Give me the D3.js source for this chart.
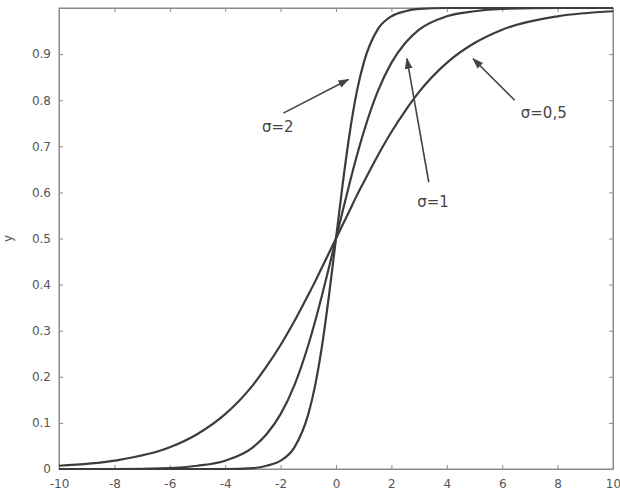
<!DOCTYPE html>
<html>
<head>
<meta charset="utf-8">
<script src="https://cdn.jsdelivr.net/npm/d3@7"></script>
<style>
  body { margin: 0; background: #fff; }
  text { font-family: "DejaVu Sans", sans-serif; }
</style>
</head>
<body>
<div class="chartBox"></div>
<script>
var margin = { top: 8, right: 7, bottom: 29, left: 59 };

var w = 620 - margin.left - margin.right,
    h = 498 - margin.top - margin.bottom;

// values
var xs = [-10, -8, -6, -5, -4, -3, -2.5, -2, -1.5, -1, -0.75, -0.5, -0.25, 0,
          0.25, 0.5, 0.75, 1, 1.5, 2, 2.5, 3, 4, 5, 6, 8, 10];

var sigmaHalf = [0.007, 0.018, 0.047, 0.076, 0.119, 0.182, 0.223, 0.269, 0.321, 0.378, 0.407, 0.438, 0.469, 0.5,
                 0.531, 0.562, 0.593, 0.622, 0.679, 0.731, 0.777, 0.818, 0.881, 0.924, 0.953, 0.982, 0.993];
var sigmaOne = [0.000, 0.000, 0.002, 0.007, 0.018, 0.047, 0.076, 0.119, 0.182, 0.269, 0.321, 0.378, 0.438, 0.5,
                0.562, 0.622, 0.679, 0.731, 0.818, 0.881, 0.924, 0.953, 0.982, 0.993, 0.998, 1.0, 1.0];
var sigmaTwo = [0.000, 0.000, 0.000, 0.000, 0.000, 0.002, 0.007, 0.018, 0.047, 0.119, 0.182, 0.269, 0.378, 0.5,
                0.622, 0.731, 0.818, 0.881, 0.953, 0.982, 0.993, 0.998, 1.0, 1.0, 1.0, 1.0, 1.0];

var xTicks = [-10, -8, -6, -4, -2, 0, 2, 4, 6, 8, 10];
var yTicks = [0, 0.1, 0.2, 0.3, 0.4, 0.5, 0.6, 0.7, 0.8, 0.9];

// label text, arrow tail and arrow head in data units
var labels = [
  { text: 'σ=2',   tx: -2.1, ty: 0.731, x1: -1.9, y1: 0.772, x2: 0.45, y2: 0.845 },
  { text: 'σ=1',   tx: 3.5,  ty: 0.568, x1: 3.35, y1: 0.622, x2: 2.56, y2: 0.89 },
  { text: 'σ=0,5', tx: 7.5,  ty: 0.761, x1: 6.45, y1: 0.80, x2: 4.95, y2: 0.89 }
];

var x = d3.scaleLinear().domain([-10, 10]).range([0, w]);
var y = d3.scaleLinear().domain([0, 1]).range([h, 0]);

var svg = d3.select('div.chartBox')
  .append('svg')
  .attr('width', 620)
  .attr('height', 498);

svg.append('defs').append('marker')
  .attr('id', 'head')
  .attr('viewBox', '0 0 10 10')
  .attr('refX', 9).attr('refY', 5)
  .attr('markerWidth', 7).attr('markerHeight', 7)
  .attr('orient', 'auto')
  .append('path')
  .attr('d', 'M0,1.5 L10,5 L0,8.5 Z')
  .attr('fill', '#444');

var g = svg.append('g')
  .attr('transform', 'translate(' + margin.left + ',' + margin.top + ')');

// frame
g.append('rect')
  .attr('width', w).attr('height', h)
  .attr('fill', 'none')
  .attr('stroke', '#8a8a8a')
  .attr('stroke-width', 1);

var axisColor = '#8a8a8a';

var xAxisB = g.append('g')
  .attr('transform', 'translate(0,' + h + ')')
  .call(d3.axisBottom(x).tickValues(xTicks).tickSizeInner(-4).tickSizeOuter(0).tickPadding(10)
    .tickFormat(function(d) { return String(d); }));
var xAxisT = g.append('g')
  .call(d3.axisTop(x).tickValues(xTicks).tickSizeInner(-4).tickSizeOuter(0).tickFormat(''));
var yAxisL = g.append('g')
  .call(d3.axisLeft(y).tickValues(yTicks).tickSizeInner(-4).tickSizeOuter(0).tickPadding(8)
    .tickFormat(function(d) { return d === 0 ? '0' : d3.format('.1f')(d); }));
var yAxisR = g.append('g')
  .attr('transform', 'translate(' + w + ',0)')
  .call(d3.axisRight(y).tickValues(yTicks).tickSizeInner(-4).tickSizeOuter(0).tickFormat(''));

[xAxisB, xAxisT, yAxisL, yAxisR].forEach(function(a) {
  a.select('.domain').attr('stroke', axisColor);
  a.selectAll('.tick line').attr('stroke', axisColor);
  a.selectAll('.tick text').attr('fill', '#555').style('font-size', '12px');
});

g.append('text')
  .attr('transform', 'translate(-47,' + y(0.5) + ') rotate(-90)')
  .attr('text-anchor', 'middle')
  .attr('fill', '#555')
  .style('font-size', '12px')
  .text('y');

var line = d3.line()
  .x(function(d) { return x(d[0]); })
  .y(function(d) { return y(d[1]); })
  .curve(d3.curveMonotoneX);

[sigmaHalf, sigmaOne, sigmaTwo].forEach(function(vals) {
  g.append('path')
    .datum(xs.map(function(v, i) { return [v, vals[i]]; }))
    .attr('d', line)
    .attr('fill', 'none')
    .attr('stroke', '#3c3c3c')
    .attr('stroke-width', 2.2);
});

g.selectAll('line.arrow')
  .data(labels)
  .enter()
  .append('line')
  .attr('class', 'arrow')
  .attr('x1', function(d) { return x(d.x1); })
  .attr('y1', function(d) { return y(d.y1); })
  .attr('x2', function(d) { return x(d.x2); })
  .attr('y2', function(d) { return y(d.y2); })
  .attr('stroke', '#444')
  .attr('stroke-width', 1.6)
  .attr('marker-end', 'url(#head)');

g.selectAll('text.lbl')
  .data(labels)
  .enter()
  .append('text')
  .attr('class', 'lbl')
  .attr('x', function(d) { return x(d.tx); })
  .attr('y', function(d) { return y(d.ty); })
  .attr('text-anchor', 'middle')
  .attr('fill', '#444')
  .style('font-size', '15px')
  .text(function(d) { return d.text; });
</script>
</body>
</html>
